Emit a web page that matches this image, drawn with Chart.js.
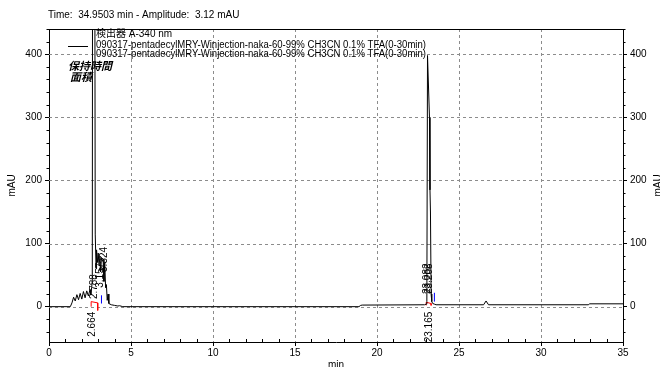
<!DOCTYPE html>
<html>
<head>
<meta charset="utf-8">
<script src="https://cdn.jsdelivr.net/npm/chart.js@4"></script>
<style>
  html, body { margin: 0; padding: 0; background: #fff; }
  #chart { display: block; }
</style>
</head>
<body>
<canvas id="chart" width="660" height="367"></canvas>
<script>
// chromatogram trace: retention time (min) / absorbance (mAU)
const times = [0, 1.3, 1.4, 1.5, 1.6, 1.7, 1.8, 1.9, 2.0, 2.1, 2.2, 2.3, 2.4, 2.5, 2.55, 2.6, 2.64,
  2.70, 2.82, 2.87, 2.9, 2.95, 3.0, 3.05, 3.1, 3.15, 3.2, 3.3, 3.35, 3.4, 3.45, 3.5, 3.55, 3.6, 3.65,
  3.8, 4.0, 4.2, 4.3, 4.5, 18.9, 19.0, 19.1, 22.9, 23.0, 23.04, 23.08, 23.2, 23.23, 23.26, 23.3,
  23.34, 23.4, 23.5, 23.6, 26.5, 26.65, 26.8, 32.9, 32.95, 35];
const mau = [0, 0, 6, 15, 9, 19, 11, 21, 12, 24, 14, 25, 17, 27, 19, 30, 40,
  2000, 115, 60, 90, 70, 85, 65, 80, 55, 78, 75, 40, 70, 30, 35, 10, 20, 5,
  3, 2, 1, 1.5, 0, 0, 2, 2.5, 3, 4, 8, 398, 300, 185, 150, 20,
  8, 5, 4, 3, 3, 9, 3, 3, 4.5, 4.5];

// integration baseline marks (red) and peak end marks (blue)
const redTimesA = [2.57, 2.57, 2.97, 2.97];
const redValsA = [0, 8, 6, -6];
const blueTimesA = [3.2, 3.2];
const blueValsA = [5, 18];
const redTimesB = [23.0, 23.0, 23.3, 23.3];
const redValsB = [2, 7, 5, 2];
const blueTimesB = [23.5, 23.5];
const blueValsB = [8, 22];

// peak annotations
const labelTimes = [2.664, 2.77, 3.12, 3.35, 23.165, 23.09, 23.2];
const labelVals = [-8, 12, 30, 55, -8, 20, 20];
const labelTexts = ['2.664', '2.788', '3.157', '3.324', '23.165', '23.082', '23.208'];
const labelBelow = [true, false, false, false, true, false, false];

const xTicks = [0, 5, 10, 15, 20, 25, 30, 35];
const yTicks = [0, 100, 200, 300, 400];

const header = 'Time:  34.9503 min - Amplitude:  3.12 mAU';
const detector = '検出器 A-340 nm';
const seriesName = '090317-pentadecylMRY-Winjection-naka-60-99% CH3CN 0.1% TFA(0-30min)';

const FONT = '"Liberation Sans", "Noto Sans CJK JP", sans-serif';
const JP = '"Noto Sans CJK JP", sans-serif';

const pts = (xs, ys) => xs.map((t, i) => ({ x: t, y: ys[i] }));

// dashed grid, drawn under the trace
const dashedGrid = {
  id: 'dashedGrid',
  beforeDatasetsDraw(chart) {
    const { ctx, chartArea: a, scales: { x, y } } = chart;
    ctx.save();
    ctx.strokeStyle = '#8c8c8c';
    ctx.lineWidth = 1;
    ctx.setLineDash([3, 3]);
    ctx.beginPath();
    xTicks.slice(1, -1).forEach(t => {
      const px = Math.round(x.getPixelForValue(t)) + 0.5;
      ctx.moveTo(px, a.top); ctx.lineTo(px, a.bottom);
    });
    yTicks.forEach(v => {
      const py = Math.round(y.getPixelForValue(v)) + 0.5;
      ctx.moveTo(a.left, py); ctx.lineTo(a.right, py);
    });
    ctx.stroke();
    ctx.restore();
  }
};

const overlay = {
  id: 'overlay',
  afterDraw(chart) {
    const { ctx, chartArea: a, scales: { x, y } } = chart;
    ctx.save();
    ctx.strokeStyle = '#000';
    ctx.lineWidth = 1;
    ctx.beginPath();
    // top frame
    ctx.moveTo(a.left, a.top + 0.5);
    ctx.lineTo(a.right, a.top + 0.5);
    // minor ticks on y axes
    for (let v = -40; v <= 440; v += 20) {
      if (v % 100 === 0) continue;
      const py = Math.round(y.getPixelForValue(v)) + 0.5;
      ctx.moveTo(a.left, py); ctx.lineTo(a.left - 2.5, py);
      ctx.moveTo(a.right, py); ctx.lineTo(a.right + 2.5, py);
    }
    // minor ticks on x axis
    for (let t = 1; t < 35; t++) {
      if (t % 5 === 0) continue;
      const px = Math.round(x.getPixelForValue(t)) + 0.5;
      ctx.moveTo(px, a.bottom); ctx.lineTo(px, a.bottom - 3);
    }
    ctx.stroke();

    ctx.fillStyle = '#000';
    ctx.font = '10px ' + FONT;
    ctx.textBaseline = 'middle';
    ctx.textAlign = 'left';
    ctx.fillText(header, 48, 15);

    // axis titles
    const cy = (a.top + a.bottom) / 2;
    [[12, cy], [658, cy]].forEach(([px, py]) => {
      ctx.save();
      ctx.translate(px, py);
      ctx.rotate(-Math.PI / 2);
      ctx.textAlign = 'center';
      ctx.fillText('mAU', 0, 0);
      ctx.restore();
    });
    ctx.textAlign = 'center';
    ctx.fillText('min', (a.left + a.right) / 2, 365);

    // legend
    ctx.textAlign = 'left';
    ctx.fillText(detector, 96, 34);
    ctx.fillText(seriesName, 96, 45, 330);
    ctx.fillText(seriesName, 96, 54, 330);
    ctx.beginPath();
    ctx.moveTo(68, 46.5); ctx.lineTo(88, 46.5);
    ctx.stroke();
    ctx.font = 'italic bold 11px ' + JP;
    ctx.fillText('保持時間', 68, 66);
    ctx.fillText('面積', 70, 77);

    // peak labels
    ctx.font = '10px ' + FONT;
    labelTexts.forEach((txt, i) => {
      ctx.save();
      ctx.translate(x.getPixelForValue(labelTimes[i]), y.getPixelForValue(labelVals[i]));
      ctx.rotate(-Math.PI / 2);
      ctx.textAlign = labelBelow[i] ? 'right' : 'left';
      ctx.fillText(txt, 0, 0);
      ctx.restore();
    });
    ctx.restore();
  }
};

const keepTicks = (vals) => (axis) => {
  axis.ticks = vals.map(v => ({ value: v }));
};

const yCommon = {
  type: 'linear',
  min: -56,
  max: 440,
  afterBuildTicks: keepTicks(yTicks),
  border: { color: '#000', width: 1 },
  ticks: { color: '#000', padding: 3, font: { size: 10, family: FONT } }
};

new Chart(document.getElementById('chart'), {
  type: 'line',
  data: {
    datasets: [
      { data: pts(times, mau), borderColor: '#000', borderWidth: 1, pointRadius: 0, tension: 0 },
      { data: pts(redTimesA, redValsA), borderColor: '#ff0000', borderWidth: 1, pointRadius: 0 },
      { data: pts(blueTimesA, blueValsA), borderColor: '#0000ff', borderWidth: 1, pointRadius: 0 },
      { data: pts(redTimesB, redValsB), borderColor: '#ff0000', borderWidth: 1, pointRadius: 0 },
      { data: pts(blueTimesB, blueValsB), borderColor: '#0000ff', borderWidth: 1, pointRadius: 0 }
    ]
  },
  options: {
    responsive: false,
    animation: false,
    layout: { padding: { top: 29, left: 0, right: 0, bottom: 0 } },
    plugins: { legend: { display: false }, tooltip: { enabled: false } },
    scales: {
      x: {
        type: 'linear',
        min: 0,
        max: 35,
        afterBuildTicks: keepTicks(xTicks),
        afterFit: (s) => { s.height = 25; },
        border: { color: '#000', width: 1 },
        grid: { drawOnChartArea: false, tickColor: '#000', tickLength: 4 },
        ticks: { color: '#000', padding: 1, maxRotation: 0, font: { size: 10, family: FONT } }
      },
      y: Object.assign({}, yCommon, {
        position: 'left',
        afterFit: (s) => { s.width = 49; },
        grid: { drawOnChartArea: false, tickColor: '#000', tickLength: 4 }
      }),
      y2: Object.assign({}, yCommon, {
        position: 'right',
        afterFit: (s) => { s.width = 37; },
        grid: { drawOnChartArea: false, tickColor: '#000', tickLength: 4 }
      })
    }
  },
  plugins: [dashedGrid, overlay]
});
</script>
</body>
</html>
